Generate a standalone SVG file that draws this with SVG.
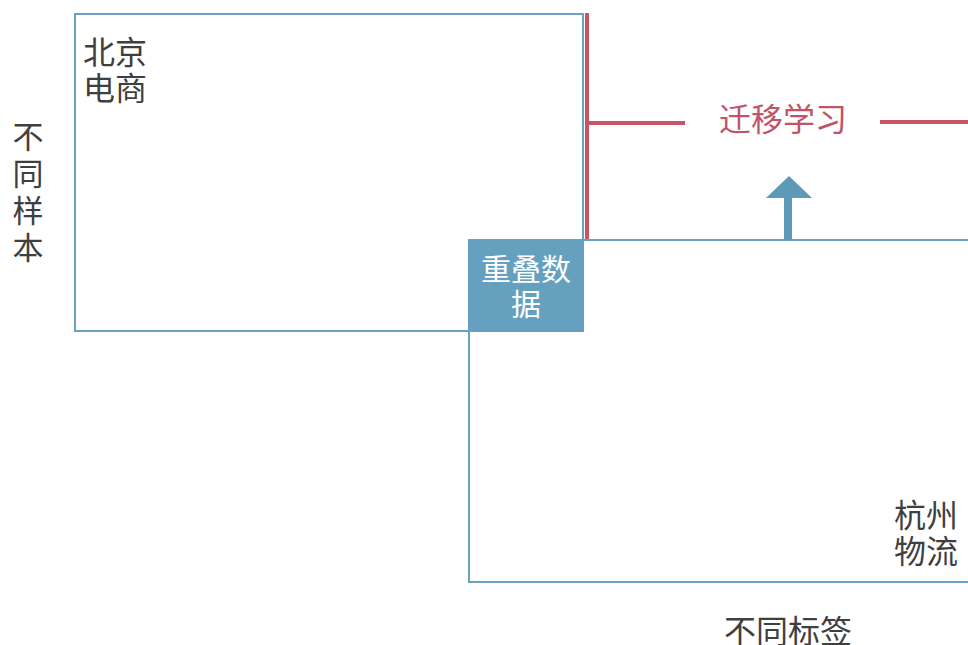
<svg xmlns="http://www.w3.org/2000/svg" width="968" height="645" viewBox="0 0 968 645">
<style>
.box{fill:none;stroke:#67a3c0;stroke-width:2}
.t{font-family:"Noto Sans CJK SC","Liberation Sans",sans-serif;font-size:32px;fill:#3f3f3f}
.v{font-family:"Noto Sans CJK SC","Liberation Sans",sans-serif;font-size:31px;fill:#3f3f3f}
.w{font-family:"Noto Sans CJK SC","Liberation Sans",sans-serif;font-size:30px;fill:#ffffff}
.r{font-family:"Noto Sans CJK SC","Liberation Sans",sans-serif;font-size:32px;fill:#c25266}
.red{stroke:#c95466;stroke-width:4;fill:none}
</style>
<rect width="968" height="645" fill="#ffffff"/>
<g id="beijing">
<rect class="box" x="75" y="14" width="508" height="317"/>
<text class="t" x="83" y="64">北京<tspan x="83" y="100">电商</tspan></text>
</g>
<g id="hangzhou">
<rect class="box" x="469" y="240" width="520" height="342"/>
<text class="t" x="894" y="527">杭州<tspan x="894" y="563">物流</tspan></text>
</g>
<g id="overlap">
<rect x="468" y="240" width="116" height="92" fill="#65a1be"/>
<text class="w" x="526" y="280" text-anchor="middle">重叠数<tspan x="526" y="315">据</tspan></text>
</g>
<g id="transfer">
<text class="r" x="783" y="131" text-anchor="middle">迁移学习</text>
</g>
<g id="labels">
<text class="v" x="28" y="148" text-anchor="middle">不<tspan x="28" y="185">同</tspan><tspan x="28" y="222">样</tspan><tspan x="28" y="259">本</tspan></text>
<text class="t" x="724" y="643">不同标签</text>
</g>
<g id="connectors">
<path class="red" d="M587 13 V239 M587 123 H685 M880 122 H968"/>
<line x1="788" y1="240" x2="788" y2="196" stroke="#5e9ab8" stroke-width="8"/>
<polygon points="766,198 812,198 789,176" fill="#5e9ab8"/>
</g>
</svg>
